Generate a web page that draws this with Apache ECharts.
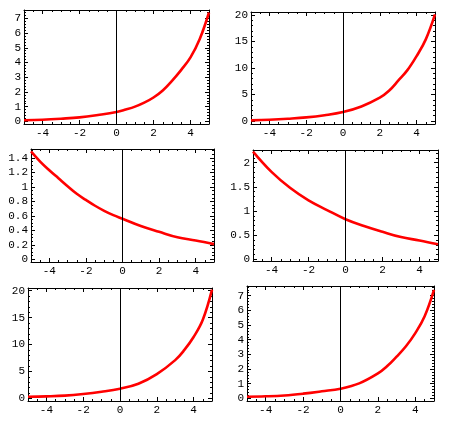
<!DOCTYPE html>
<html>
<head>
<meta charset="utf-8">
<script src="https://cdn.jsdelivr.net/npm/echarts@6/dist/echarts.min.js"></script>
<style>
  html, body { margin: 0; padding: 0; background: #fff; }
  #chart { width: 450px; height: 423px; }
</style>
</head>
<body>
<div id="chart"></div>
<script>
// values
const x1 = [-5, -4, -3, -2, -1, 0, 0.5, 1, 1.5, 2, 2.5, 3, 3.5, 4, 4.5, 5];
const y1 = [0.07, 0.11, 0.18, 0.27, 0.43, 0.63, 0.8, 1.0, 1.27, 1.62, 2.1, 2.75, 3.5, 4.35, 5.6, 7.4];

const x2 = [-5, -4, -3, -2, -1, 0, 1, 2, 2.5, 3, 3.5, 4, 4.5, 5];
const y2 = [0.12, 0.25, 0.44, 0.69, 1.1, 1.7, 2.75, 4.4, 5.7, 7.6, 9.6, 12.25, 15.4, 20.1];

const x3 = [-5, -4.5, -4, -3.5, -3, -2.5, -2, -1.5, -1, -0.5, 0, 1, 2, 3, 4, 5];
const y3 = [1.49, 1.35, 1.23, 1.12, 1.01, 0.905, 0.82, 0.74, 0.67, 0.61, 0.56, 0.46, 0.38, 0.305, 0.26, 0.21];

const x4 = [-5, -4, -3, -2, -1, 0, 1, 2, 3, 4, 5];
const y4 = [2.23, 1.81, 1.48, 1.22, 1.02, 0.83, 0.69, 0.57, 0.46, 0.39, 0.31];

const x5 = [-5, -4, -3, -2, -1, 0, 1, 2, 3, 3.5, 4, 4.5, 5];
const y5 = [0.3, 0.37, 0.5, 0.8, 1.23, 1.8, 2.7, 4.5, 7.1, 9.0, 11.4, 14.6, 20.2];

const x6 = [-5, -4, -3, -2, -1, 0, 1, 2, 2.5, 3, 3.5, 4, 4.5, 5];
const y6 = [0.11, 0.14, 0.2, 0.32, 0.48, 0.66, 1.02, 1.7, 2.2, 2.84, 3.55, 4.45, 5.6, 7.4];

// tick labels
const xTicks = [-4, -2, 0, 2, 4];
const yTicksA = [0, 1, 2, 3, 4, 5, 6, 7];
const yTicksB = [0, 5, 10, 15, 20];
const yTicksC = [0, 0.2, 0.4, 0.6, 0.8, 1, 1.2, 1.4];
const yTicksD = [0, 0.5, 1, 1.5, 2];

const panels = [
  { xs: x1, ys: y1, box: [24, 10, 185, 114], yMin: -0.18, yMax: 7.57, yTicks: yTicksA, yStep: 0.2 },
  { xs: x2, ys: y2, box: [251, 12, 184, 112], yMin: -0.56, yMax: 20.56, yTicks: yTicksB, yStep: 1 },
  { xs: x3, ys: y3, box: [31, 149, 183, 113], yMin: -0.037, yMax: 1.524, yTicks: yTicksC, yStep: 0.05 },
  { xs: x4, ys: y4, box: [253, 150, 185, 111], yMin: -0.035, yMax: 2.263, yTicks: yTicksD, yStep: 0.1 },
  { xs: x5, ys: y5, box: [28, 288, 184, 113], yMin: -0.49, yMax: 20.5, yTicks: yTicksB, yStep: 1 },
  { xs: x6, ys: y6, box: [247, 286, 187, 115], yMin: -0.18, yMax: 7.66, yTicks: yTicksA, yStep: 0.2 }
];

const font = { fontFamily: 'Liberation Mono', fontSize: 11, color: '#000' };

function minorTicks (min, max, step, majors) {
  const out = [];
  const start = Math.ceil(min / step - 1e-9);
  for (let k = start; k * step <= max + 1e-9; k++) {
    const v = +(k * step).toFixed(6);
    if (majors.indexOf(v) < 0) out.push(v);
  }
  return out;
}

function makeAxis (gi, pos, min, max, values, len, withLabel, withLine) {
  return {
    gridIndex: gi,
    type: 'value',
    position: pos,
    min: min,
    max: max,
    axisLine: { show: withLine, onZero: false, lineStyle: { color: '#000', width: 1 } },
    axisTick: { show: true, inside: true, length: len, customValues: values, lineStyle: { color: '#000', width: 1 } },
    axisLabel: withLabel
      ? Object.assign({ show: true, customValues: values, margin: pos === 'left' ? 3 : 4 }, font)
      : { show: false },
    splitLine: { show: false }
  };
}

const grid = [];
const xAxis = [];
const yAxis = [];
const series = [];

panels.forEach((p, i) => {
  grid.push({ left: p.box[0], top: p.box[1], width: p.box[2], height: p.box[3] });
  const xi = xAxis.length;
  const yi = yAxis.length;
  const xMin = minorTicks(-5, 5, 0.5, xTicks);
  const yMin = minorTicks(p.yMin, p.yMax, p.yStep, p.yTicks);
  xAxis.push(makeAxis(i, 'bottom', -5, 5, xTicks, 4, true, true));
  xAxis.push(makeAxis(i, 'bottom', -5, 5, xMin, 2, false, false));
  xAxis.push(makeAxis(i, 'top', -5, 5, xTicks, 4, false, true));
  xAxis.push(makeAxis(i, 'top', -5, 5, xMin, 2, false, false));
  yAxis.push(makeAxis(i, 'left', p.yMin, p.yMax, p.yTicks, 4, true, true));
  yAxis.push(makeAxis(i, 'left', p.yMin, p.yMax, yMin, 2, false, false));
  yAxis.push(makeAxis(i, 'right', p.yMin, p.yMax, p.yTicks, 4, false, true));
  yAxis.push(makeAxis(i, 'right', p.yMin, p.yMax, yMin, 2, false, false));

  // vertical line at x = 0
  series.push({
    type: 'line',
    xAxisIndex: xi,
    yAxisIndex: yi,
    data: [],
    z: 1,
    markLine: {
      silent: true,
      symbol: 'none',
      label: { show: false },
      lineStyle: { color: '#000', width: 1, type: 'solid' },
      data: [{ xAxis: 0 }]
    }
  });
  series.push({
    type: 'line',
    xAxisIndex: xi,
    yAxisIndex: yi,
    data: p.xs.map((x, k) => [x, p.ys[k]]),
    smooth: 0.4,
    showSymbol: false,
    z: 2,
    lineStyle: { color: '#ff0000', width: 2.6 }
  });
});

const chart = echarts.init(document.getElementById('chart'));
chart.setOption({
  animation: false,
  backgroundColor: '#fff',
  grid: grid,
  xAxis: xAxis,
  yAxis: yAxis,
  series: series
});
</script>
</body>
</html>
